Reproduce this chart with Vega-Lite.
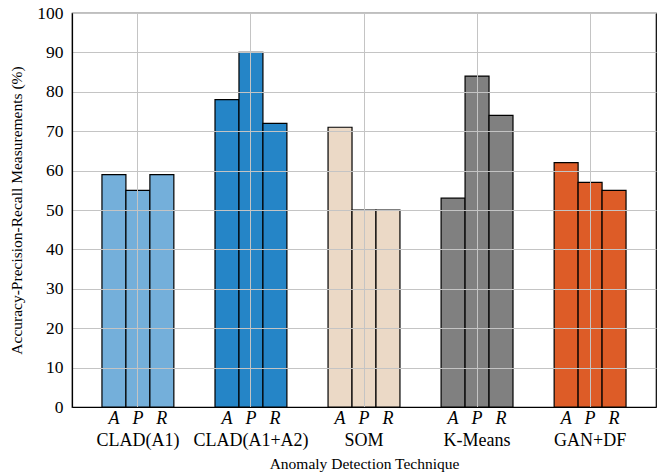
{
  "$schema": "https://vega.github.io/schema/vega-lite/v6.json",
  "width": 584,
  "height": 394,
  "autosize": {"type": "none"},
  "padding": {"left": 72, "top": 13, "right": 1, "bottom": 68},
  "background": "white",
  "config": {
    "view": {"stroke": "black", "strokeWidth": 1.2},
    "font": "Liberation Serif",
    "axis": {"labelFont": "Liberation Serif", "titleFont": "Liberation Serif"},
    "text": {"font": "Liberation Serif"}
  },
  "data": {
    "values": [
      {"technique": "CLAD(A1)", "metric": "Accuracy", "letter": "A", "value": 59},
      {"technique": "CLAD(A1)", "metric": "Precision", "letter": "P", "value": 55},
      {"technique": "CLAD(A1)", "metric": "Recall", "letter": "R", "value": 59},
      {"technique": "CLAD(A1+A2)", "metric": "Accuracy", "letter": "A", "value": 78},
      {"technique": "CLAD(A1+A2)", "metric": "Precision", "letter": "P", "value": 90},
      {"technique": "CLAD(A1+A2)", "metric": "Recall", "letter": "R", "value": 72},
      {"technique": "SOM", "metric": "Accuracy", "letter": "A", "value": 71},
      {"technique": "SOM", "metric": "Precision", "letter": "P", "value": 50},
      {"technique": "SOM", "metric": "Recall", "letter": "R", "value": 50},
      {"technique": "K-Means", "metric": "Accuracy", "letter": "A", "value": 53},
      {"technique": "K-Means", "metric": "Precision", "letter": "P", "value": 84},
      {"technique": "K-Means", "metric": "Recall", "letter": "R", "value": 74},
      {"technique": "GAN+DF", "metric": "Accuracy", "letter": "A", "value": 62},
      {"technique": "GAN+DF", "metric": "Precision", "letter": "P", "value": 57},
      {"technique": "GAN+DF", "metric": "Recall", "letter": "R", "value": 55}
    ]
  },
  "encoding": {
    "x": {
      "field": "technique",
      "type": "nominal",
      "sort": ["CLAD(A1)", "CLAD(A1+A2)", "SOM", "K-Means", "GAN+DF"],
      "scale": {"paddingInner": 0.364, "paddingOuter": 0.265},
      "axis": {
        "title": "Anomaly Detection Technique",
        "titleFontSize": 15.5,
        "titleFontWeight": "normal",
        "titleColor": "black",
        "titlePadding": 7,
        "labelFontSize": 18,
        "labelColor": "black",
        "labelAngle": 0,
        "labelPadding": 24,
        "ticks": false,
        "domainColor": "black",
        "domainWidth": 1.2,
        "grid": true,
        "gridColor": "#c4c4c4",
        "gridWidth": 1,
        "bandPosition": 0.5,
        "zindex": 1
      }
    },
    "xOffset": {
      "field": "metric",
      "type": "nominal",
      "sort": ["Accuracy", "Precision", "Recall"],
      "scale": {"paddingInner": 0, "paddingOuter": 0}
    },
    "y": {
      "field": "value",
      "type": "quantitative",
      "scale": {"domain": [0, 100], "nice": false},
      "axis": {
        "title": "Accuracy-Precision-Recall Measurements (%)",
        "titleFontSize": 15.5,
        "titleFontWeight": "normal",
        "titleColor": "black",
        "titlePadding": 12,
        "labelFontSize": 17.5,
        "labelColor": "black",
        "labelPadding": 9,
        "labelOverlap": false,
        "values": [0, 10, 20, 30, 40, 50, 60, 70, 80, 90, 100],
        "ticks": false,
        "domainColor": "black",
        "domainWidth": 1.2,
        "grid": true,
        "gridColor": "#c4c4c4",
        "gridWidth": 1,
        "zindex": 1
      }
    }
  },
  "layer": [
    {
      "mark": {"type": "bar", "stroke": "black", "strokeWidth": 1.2},
      "encoding": {
        "color": {
          "field": "technique",
          "type": "nominal",
          "scale": {
            "domain": ["CLAD(A1)", "CLAD(A1+A2)", "SOM", "K-Means", "GAN+DF"],
            "range": ["#74afda", "#2585c7", "#ebd9c6", "#808080", "#dd5c27"]
          },
          "legend": null
        }
      }
    },
    {
      "mark": {"type": "text", "dy": 12, "fontSize": 18, "fontStyle": "italic", "baseline": "middle", "color": "black"},
      "encoding": {
        "y": {"datum": 0, "type": "quantitative"},
        "text": {"field": "letter"}
      }
    }
  ]
}
